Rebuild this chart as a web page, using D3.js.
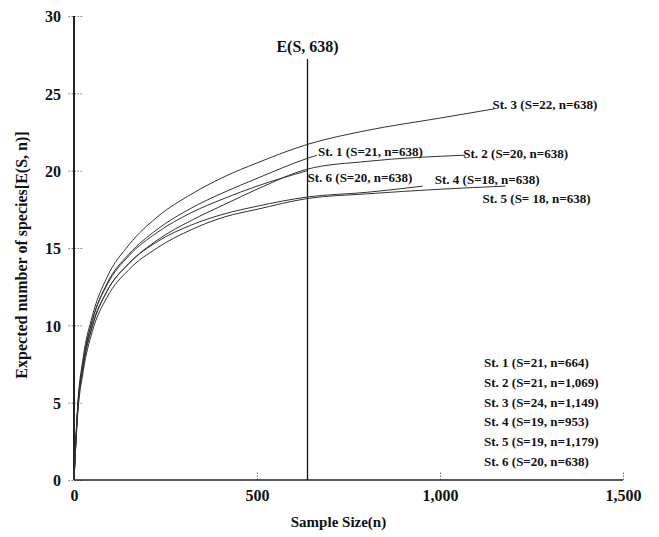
<!DOCTYPE html>
<html>
<head>
<meta charset="utf-8">
<script src="https://cdn.jsdelivr.net/npm/d3@7"></script>
<style>
  body { margin: 0; background: #fff; }
  svg text { font-family: "Liberation Serif", "Times New Roman", serif; font-weight: bold; fill: #111; }
</style>
</head>
<body>
<div id="chart"></div>
<script>
'use strict';

var width = 659,
    height = 537,
    x_left = 74,
    x_right = 623,
    y_top = 16,
    y_bottom = 480;

// sample sizes (n) and expected species E(S, n)
var st1_n = [0, 10, 25, 50, 90, 150, 227, 322, 410, 500, 638, 664];
var st1_e = [0, 4.6, 7.6, 10.3, 12.7, 14.6, 16.2, 17.6, 18.6, 19.5, 20.8, 21.0];
var st2_n = [0, 10, 25, 50, 90, 150, 227, 322, 410, 500, 638, 800, 1069];
var st2_e = [0, 4.4, 7.3, 9.9, 12.2, 14.0, 15.5, 16.8, 17.8, 18.8, 20.1, 20.6, 21.0];
var st3_n = [0, 10, 25, 50, 90, 150, 227, 322, 410, 500, 638, 800, 1000, 1149];
var st3_e = [0, 4.8, 7.9, 10.6, 13.1, 15.2, 17.0, 18.5, 19.6, 20.5, 21.7, 22.6, 23.4, 24.0];
var st4_n = [0, 10, 25, 50, 90, 150, 227, 322, 410, 500, 638, 800, 953];
var st4_e = [0, 4.5, 7.4, 10.0, 12.2, 14.0, 15.4, 16.5, 17.2, 17.7, 18.3, 18.6, 19.0];
var st5_n = [0, 10, 25, 50, 90, 150, 227, 322, 410, 500, 638, 800, 1000, 1179];
var st5_e = [0, 4.2, 7.0, 9.6, 11.8, 13.6, 15.0, 16.2, 17.0, 17.5, 18.2, 18.5, 18.8, 19.0];
var st6_n = [0, 10, 25, 50, 90, 150, 227, 322, 410, 500, 638];
var st6_e = [0, 4.6, 7.6, 10.3, 12.6, 14.5, 16.0, 17.3, 18.2, 19.0, 20.0];

var curve_labels = ['St. 1 (S=21, n=638)', 'St. 2 (S=20, n=638)', 'St. 3 (S=22, n=638)',
                    'St. 4 (S=18, n=638)', 'St. 5 (S= 18, n=638)', 'St. 6 (S=20, n=638)'];
var legend_lines = ['St. 1 (S=21, n=664)', 'St. 2 (S=21, n=1,069)', 'St. 3 (S=24, n=1,149)',
                    'St. 4 (S=19, n=953)', 'St. 5 (S=19, n=1,179)', 'St. 6 (S=20, n=638)'];

var x_ticks = [0, 500, 1000, 1500];
var y_ticks = [0, 5, 10, 15, 20, 25, 30];
var ref_n = 638;

// label offsets from each curve's end point (px)
var label_offsets = [[1, 1], [-2, 3], [-2, 0], [12, -2], [-23, 17], [0, 11]];

var series = [
    {n: st1_n, e: st1_e},
    {n: st2_n, e: st2_e},
    {n: st3_n, e: st3_e},
    {n: st4_n, e: st4_e},
    {n: st5_n, e: st5_e},
    {n: st6_n, e: st6_e}
].map(function(s, i) {
    return {
        label: curve_labels[i],
        offset: label_offsets[i],
        points: s.n.map(function(v, j) { return {n: v, e: s.e[j]}; })
    };
});

var x = d3.scaleLinear().domain([0, 1500]).range([x_left, x_right]);
var y = d3.scaleLinear().domain([0, 30]).range([y_bottom, y_top]);

var svg = d3.select('#chart').append('svg')
    .attr('width', width)
    .attr('height', height);

// y axis ticks (dotted, both sides of the axis)
var yAxis = svg.append('g')
    .attr('transform', 'translate(' + x_left + ',0)')
    .call(d3.axisLeft(y).tickValues(y_ticks).tickSize(7).tickPadding(6));
yAxis.select('.domain').remove();
yAxis.selectAll('.tick line')
    .attr('x1', 8)
    .attr('stroke', '#777')
    .attr('stroke-dasharray', '1.5,1.5');
yAxis.selectAll('.tick text')
    .attr('font-size', 16)
    .style('font-family', '"Liberation Serif", serif')
    .style('font-weight', 'bold')
    .attr('dy', '0.36em');

// x axis ticks (dotted, pointing up)
var xAxis = svg.append('g')
    .attr('transform', 'translate(0,' + y_bottom + ')')
    .call(d3.axisBottom(x).tickValues(x_ticks).tickFormat(d3.format(',')).tickSize(0).tickPadding(10));
xAxis.select('.domain').remove();
xAxis.selectAll('.tick line')
    .attr('y2', -9)
    .attr('stroke', '#777')
    .attr('stroke-dasharray', '1.5,1.5');
xAxis.selectAll('.tick text')
    .attr('font-size', 16)
    .style('font-family', '"Liberation Serif", serif')
    .style('font-weight', 'bold');

// axis lines
svg.append('line')
    .attr('x1', x_left).attr('x2', x_left)
    .attr('y1', y(30)).attr('y2', y_bottom)
    .attr('stroke', '#222').attr('stroke-width', 2);
svg.append('line')
    .attr('x1', x_left).attr('x2', x(1500))
    .attr('y1', y_bottom).attr('y2', y_bottom)
    .attr('stroke', '#222').attr('stroke-width', 1.5);

// reference line at n = 638
svg.append('line')
    .attr('x1', x(ref_n)).attr('x2', x(ref_n))
    .attr('y1', 59).attr('y2', y_bottom)
    .attr('stroke', '#111').attr('stroke-width', 1.3);
svg.append('text')
    .attr('x', x(ref_n))
    .attr('y', 52)
    .attr('text-anchor', 'middle')
    .attr('font-size', 16)
    .text('E(S, ' + ref_n + ')');

// rarefaction curves
var line = d3.line()
    .x(function(d) { return x(d.n); })
    .y(function(d) { return y(d.e); })
    .curve(d3.curveMonotoneX);

svg.append('g').selectAll('path').data(series)
    .enter().append('path')
    .attr('d', function(d) { return line(d.points); })
    .attr('fill', 'none')
    .attr('stroke', '#333')
    .attr('stroke-width', 1);

// curve labels at curve ends
svg.append('g').selectAll('text').data(series)
    .enter().append('text')
    .attr('x', function(d) {
        var last = d.points[d.points.length - 1];
        return x(last.n) + d.offset[0];
    })
    .attr('y', function(d) {
        var last = d.points[d.points.length - 1];
        return y(last.e) + d.offset[1];
    })
    .attr('font-size', 13)
    .text(function(d) { return d.label; });

// legend text (bottom right)
svg.append('g').selectAll('text').data(legend_lines)
    .enter().append('text')
    .attr('x', 484)
    .attr('y', function(d, i) { return 367 + i * 19.8; })
    .attr('font-size', 13)
    .text(function(d) { return d; });

// axis titles
svg.append('text')
    .attr('x', (x_left + x(1500)) / 2 - 10)
    .attr('y', 527)
    .attr('text-anchor', 'middle')
    .attr('font-size', 15)
    .text('Sample Size(n)');
svg.append('text')
    .attr('transform', 'translate(27,' + 255 + ') rotate(-90)')
    .attr('text-anchor', 'middle')
    .attr('font-size', 16)
    .text('Expected number of species[E(S, n)]');
</script>
</body>
</html>
